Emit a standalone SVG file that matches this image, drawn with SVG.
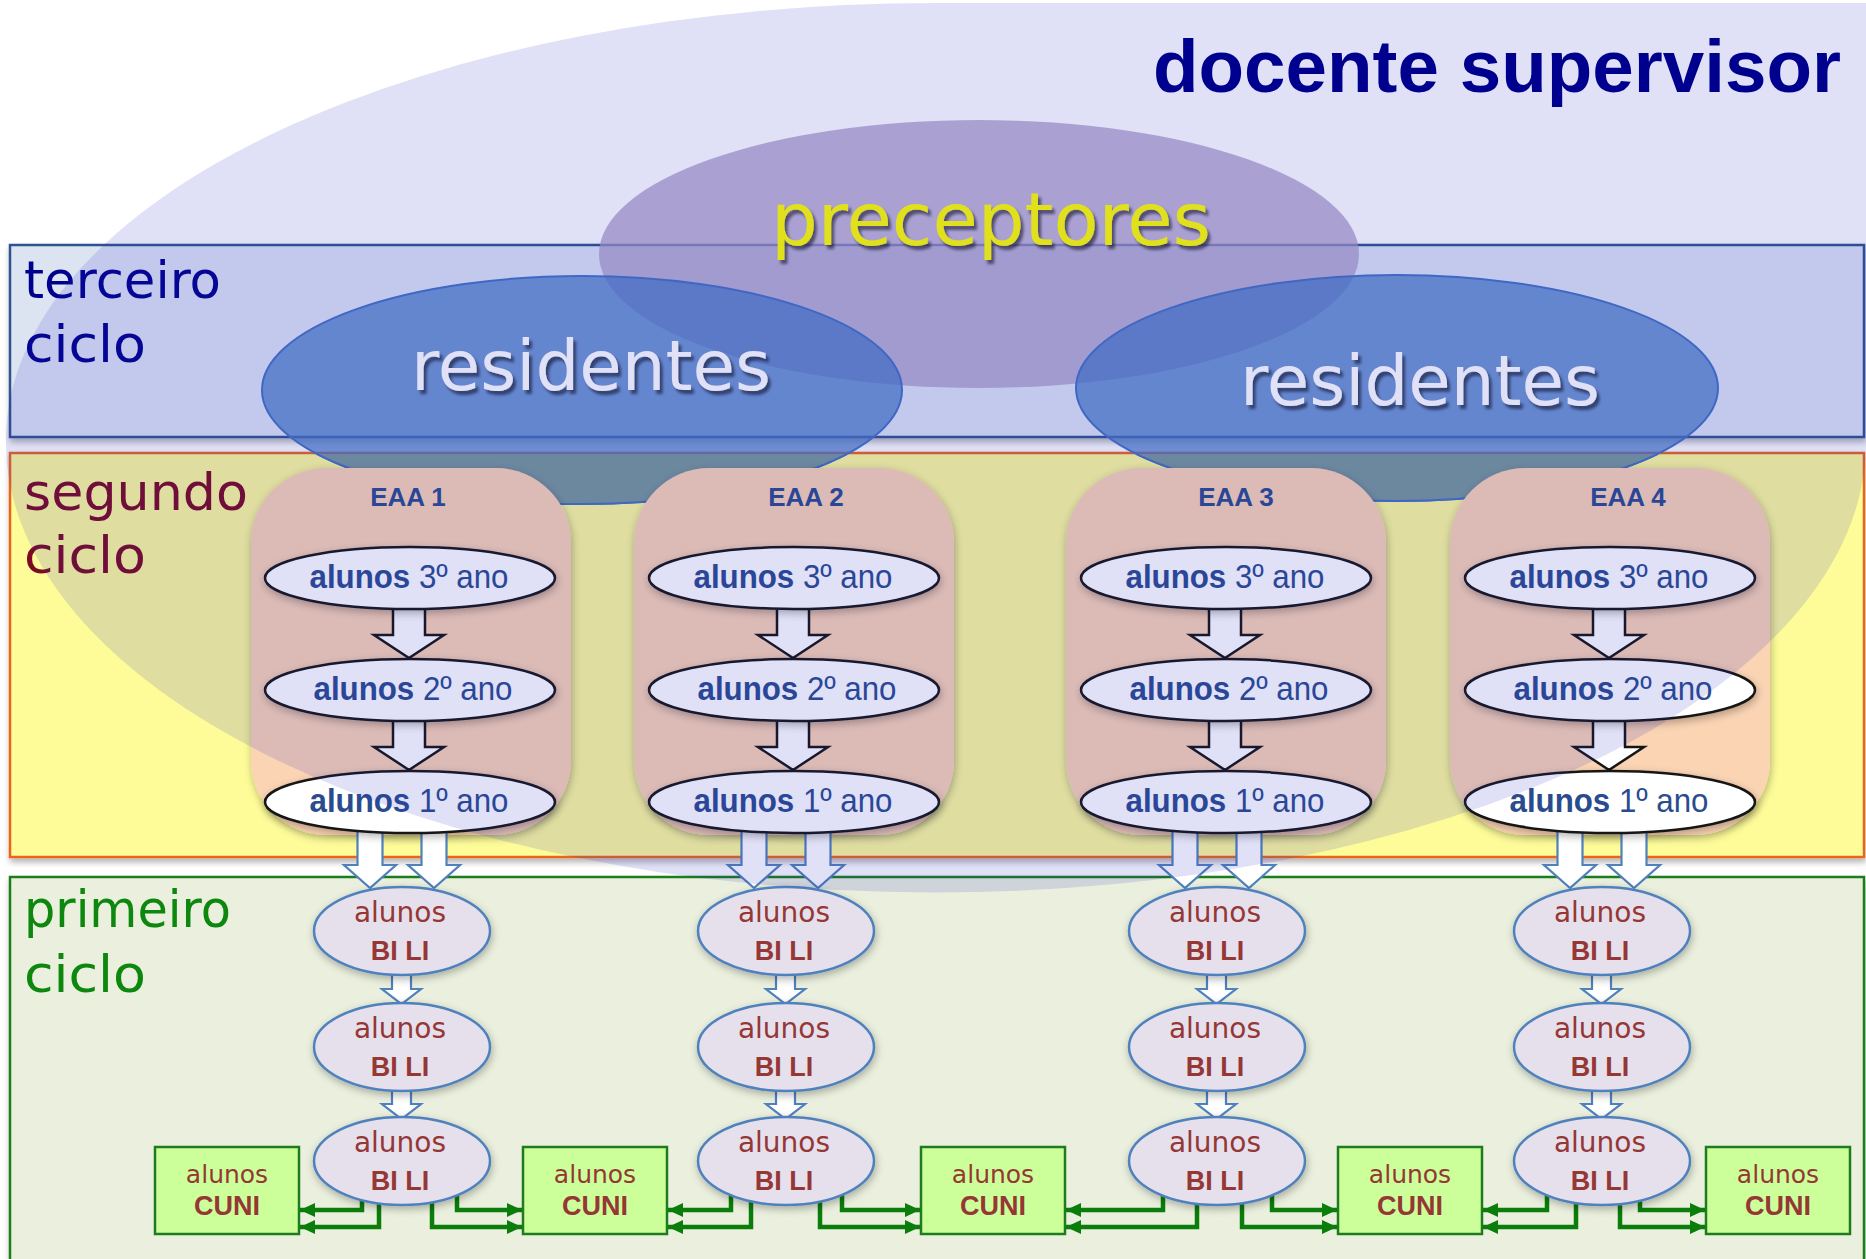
<svg xmlns="http://www.w3.org/2000/svg" xmlns:xlink="http://www.w3.org/1999/xlink" width="1866" height="1259" viewBox="0 0 1866 1259">
<defs>
<style>
.cg{font-family:"DejaVu Sans",Verdana,sans-serif}
.ls{font-family:"Liberation Sans",Arial,sans-serif}
.band{stroke-width:2.5}
.band-label{font-size:52px}
.eaa-box{fill:#FBD4B4}
.eaa-title{font-size:26px;font-weight:bold;fill:#2A4C8E;text-anchor:middle}
.al{fill:#ffffff;stroke:#151515;stroke-width:2.5}
.al-t{font-size:33px;fill:#2A4C8E;text-anchor:middle}
.bili{fill:#E5E0EC;stroke:#4F81BD;stroke-width:2.5}
.red-t{fill:#953735;text-anchor:middle}
.cuni{fill:#CCFF99;stroke:#1E7B1E;stroke-width:2.5}
.blk{fill:#ffffff;stroke:#151515;stroke-width:2.5}
.blu{fill:#ffffff;stroke:#4F81BD;stroke-width:2.2}
.green{fill:none;stroke:#0A7D0A;stroke-width:4.5;marker-end:url(#gh)}
</style>
<marker id="gh" markerUnits="userSpaceOnUse" markerWidth="16" markerHeight="16" refX="15" refY="8" orient="auto"><path d="M0,1 L15,8 L0,15 z" fill="#0A7D0A"/></marker>
<polygon id="blkA" points="-16,0 16,0 16,35 35,35 0,58 -35,35 -16,35"/>
<polygon id="bluA" points="-12.5,0 12.5,0 12.5,50 26,50 0,73 -26,50 -12.5,50"/>
<polygon id="smA" points="-9.5,0 9.5,0 9.5,24 19.5,24 0,39 -19.5,24 -9.5,24"/>
<filter id="bandSh" x="-5%" y="-10%" width="110%" height="130%">
<feGaussianBlur in="SourceAlpha" stdDeviation="3"/><feOffset dx="1" dy="4"/>
<feComponentTransfer><feFuncA type="linear" slope="0.3"/></feComponentTransfer>
<feMerge><feMergeNode/><feMergeNode in="SourceGraphic"/></feMerge></filter>
<filter id="softSh" x="-20%" y="-20%" width="140%" height="140%">
<feGaussianBlur in="SourceAlpha" stdDeviation="4"/><feOffset dx="1" dy="3"/>
<feComponentTransfer><feFuncA type="linear" slope="0.3"/></feComponentTransfer>
<feMerge><feMergeNode/><feMergeNode in="SourceGraphic"/></feMerge></filter>
<filter id="txtSh" x="-10%" y="-20%" width="120%" height="150%">
<feGaussianBlur in="SourceAlpha" stdDeviation="1.8"/><feOffset dx="3" dy="4"/>
<feComponentTransfer><feFuncA type="linear" slope="0.55"/></feComponentTransfer>
<feMerge><feMergeNode/><feMergeNode in="SourceGraphic"/></feMerge></filter>
<clipPath id="segClip"><rect x="0" y="455" width="1866" height="410"/></clipPath>
<clipPath id="topClip"><rect x="0" y="3" width="1866" height="1256"/></clipPath>
</defs>

<rect x="0" y="0" width="1866" height="1259" fill="#ffffff"/>

<g id="bands">
<g id="terceiro-ciclo">
<rect class="band" x="10" y="245" width="1854" height="192" fill="#DCE4F2" stroke="#2F528F" filter="url(#bandSh)"/>
<text class="cg band-label" x="24" y="298" fill="#00008E" textLength="197" lengthAdjust="spacingAndGlyphs">terceiro</text>
<text class="cg band-label" x="24" y="362" fill="#00008E" textLength="122" lengthAdjust="spacingAndGlyphs">ciclo</text>
</g>
<g id="segundo-ciclo">
<rect class="band" x="10" y="453" width="1854" height="404" fill="#FEFC99" stroke="#E8661C" stroke-width="3" filter="url(#bandSh)"/>
<text class="cg band-label" x="24" y="510" fill="#7C0A22" textLength="224" lengthAdjust="spacingAndGlyphs">segundo</text>
<text class="cg band-label" x="24" y="573" fill="#7C0A22" textLength="122" lengthAdjust="spacingAndGlyphs">ciclo</text>
</g>
<g id="primeiro-ciclo">
<rect class="band" x="10" y="877" width="1854" height="420" fill="#EBF0DE" stroke="#1B7D1B" filter="url(#bandSh)"/>
<text class="cg band-label" x="24" y="927" fill="#0E870E" textLength="207" lengthAdjust="spacingAndGlyphs">primeiro</text>
<text class="cg band-label" x="24" y="992" fill="#0E870E" textLength="122" lengthAdjust="spacingAndGlyphs">ciclo</text>
</g>
</g>

<g id="preceptores">
<ellipse cx="979" cy="254" rx="380" ry="134" fill="#A89AC3" fill-opacity="0.72"/>
<text class="cg" x="771" y="245" font-size="73" fill="#FFFF00" textLength="440" lengthAdjust="spacingAndGlyphs" filter="url(#txtSh)">preceptores</text>
</g>

<g id="residentes-1">
<ellipse cx="582" cy="390" rx="320" ry="114" fill="#4577C4" fill-opacity="0.72" stroke="#4472C4" stroke-width="2"/>
<ellipse cx="582" cy="390" rx="320" ry="114" fill="#779899" stroke="#4472C4" stroke-width="2" clip-path="url(#segClip)"/>
<text class="cg" x="411" y="390" font-size="69" fill="#ffffff" textLength="360" lengthAdjust="spacingAndGlyphs" filter="url(#txtSh)">residentes</text>
</g>
<g id="residentes-2">
<ellipse cx="1397" cy="388" rx="321" ry="113" fill="#4577C4" fill-opacity="0.72" stroke="#4472C4" stroke-width="2"/>
<ellipse cx="1397" cy="388" rx="321" ry="113" fill="#779899" stroke="#4472C4" stroke-width="2" clip-path="url(#segClip)"/>
<text class="cg" x="1240" y="405" font-size="69" fill="#ffffff" textLength="360" lengthAdjust="spacingAndGlyphs" filter="url(#txtSh)">residentes</text>
</g>

<g id="eaa-1"><rect class="eaa-box" x="251" y="468" width="320" height="367" rx="75" filter="url(#softSh)"/><text class="ls eaa-title" x="408" y="506">EAA 1</text></g>
<g id="eaa-2"><rect class="eaa-box" x="634" y="468" width="320" height="367" rx="75" filter="url(#softSh)"/><text class="ls eaa-title" x="806" y="506">EAA 2</text></g>
<g id="eaa-3"><rect class="eaa-box" x="1066" y="468" width="320" height="367" rx="75" filter="url(#softSh)"/><text class="ls eaa-title" x="1236" y="506">EAA 3</text></g>
<g id="eaa-4"><rect class="eaa-box" x="1450" y="468" width="320" height="367" rx="75" filter="url(#softSh)"/><text class="ls eaa-title" x="1628" y="506">EAA 4</text></g>

<g id="connectors">
<use href="#blkA" class="blk" x="409" y="600"/><use href="#blkA" class="blk" x="409" y="712"/>
<use href="#blkA" class="blk" x="793" y="600"/><use href="#blkA" class="blk" x="793" y="712"/>
<use href="#blkA" class="blk" x="1225" y="600"/><use href="#blkA" class="blk" x="1225" y="712"/>
<use href="#blkA" class="blk" x="1609" y="600"/><use href="#blkA" class="blk" x="1609" y="712"/>

<use href="#bluA" class="blu" x="370" y="815"/><use href="#bluA" class="blu" x="434" y="815"/>
<use href="#bluA" class="blu" x="754" y="815"/><use href="#bluA" class="blu" x="818" y="815"/>
<use href="#bluA" class="blu" x="1185" y="815"/><use href="#bluA" class="blu" x="1249" y="815"/>
<use href="#bluA" class="blu" x="1570" y="815"/><use href="#bluA" class="blu" x="1634" y="815"/>

<use href="#smA" class="blu" x="401.5" y="965"/><use href="#smA" class="blu" x="401.5" y="1080"/>
<use href="#smA" class="blu" x="785.5" y="965"/><use href="#smA" class="blu" x="785.5" y="1080"/>
<use href="#smA" class="blu" x="1216.5" y="965"/><use href="#smA" class="blu" x="1216.5" y="1080"/>
<use href="#smA" class="blu" x="1601.5" y="965"/><use href="#smA" class="blu" x="1601.5" y="1080"/>

<path class="green" d="M362,1185 V1210 H300"/>
<path class="green" d="M379,1185 V1227 H300"/>
<path class="green" d="M432,1185 V1227 H522"/>
<path class="green" d="M457,1185 V1210 H522"/>
<path class="green" d="M731,1185 V1210 H668"/>
<path class="green" d="M751,1185 V1227 H668"/>
<path class="green" d="M820,1185 V1227 H920"/>
<path class="green" d="M842,1185 V1210 H920"/>
<path class="green" d="M1163,1185 V1210 H1066"/>
<path class="green" d="M1197,1185 V1227 H1066"/>
<path class="green" d="M1242,1185 V1227 H1337"/>
<path class="green" d="M1272,1185 V1210 H1337"/>
<path class="green" d="M1547,1185 V1210 H1483"/>
<path class="green" d="M1576,1185 V1227 H1483"/>
<path class="green" d="M1620,1185 V1227 H1705"/>
<path class="green" d="M1640,1185 V1210 H1705"/>
</g>

<g id="eaa-1-alunos-3"><ellipse class="al" cx="410" cy="578" rx="145" ry="31" filter="url(#softSh)"/><text class="ls al-t" x="409" y="588" textLength="199" lengthAdjust="spacingAndGlyphs"><tspan font-weight="bold">alunos</tspan> 3º ano</text></g>
<g id="eaa-1-alunos-2"><ellipse class="al" cx="410" cy="690" rx="145" ry="31" filter="url(#softSh)"/><text class="ls al-t" x="413" y="700" textLength="199" lengthAdjust="spacingAndGlyphs"><tspan font-weight="bold">alunos</tspan> 2º ano</text></g>
<g id="eaa-1-alunos-1"><ellipse class="al" cx="410" cy="802" rx="145" ry="31" filter="url(#softSh)"/><text class="ls al-t" x="409" y="812" textLength="199" lengthAdjust="spacingAndGlyphs"><tspan font-weight="bold">alunos</tspan> 1º ano</text></g>

<g id="eaa-2-alunos-3"><ellipse class="al" cx="794" cy="578" rx="145" ry="31" filter="url(#softSh)"/><text class="ls al-t" x="793" y="588" textLength="199" lengthAdjust="spacingAndGlyphs"><tspan font-weight="bold">alunos</tspan> 3º ano</text></g>
<g id="eaa-2-alunos-2"><ellipse class="al" cx="794" cy="690" rx="145" ry="31" filter="url(#softSh)"/><text class="ls al-t" x="797" y="700" textLength="199" lengthAdjust="spacingAndGlyphs"><tspan font-weight="bold">alunos</tspan> 2º ano</text></g>
<g id="eaa-2-alunos-1"><ellipse class="al" cx="794" cy="802" rx="145" ry="31" filter="url(#softSh)"/><text class="ls al-t" x="793" y="812" textLength="199" lengthAdjust="spacingAndGlyphs"><tspan font-weight="bold">alunos</tspan> 1º ano</text></g>

<g id="eaa-3-alunos-3"><ellipse class="al" cx="1226" cy="578" rx="145" ry="31" filter="url(#softSh)"/><text class="ls al-t" x="1225" y="588" textLength="199" lengthAdjust="spacingAndGlyphs"><tspan font-weight="bold">alunos</tspan> 3º ano</text></g>
<g id="eaa-3-alunos-2"><ellipse class="al" cx="1226" cy="690" rx="145" ry="31" filter="url(#softSh)"/><text class="ls al-t" x="1229" y="700" textLength="199" lengthAdjust="spacingAndGlyphs"><tspan font-weight="bold">alunos</tspan> 2º ano</text></g>
<g id="eaa-3-alunos-1"><ellipse class="al" cx="1226" cy="802" rx="145" ry="31" filter="url(#softSh)"/><text class="ls al-t" x="1225" y="812" textLength="199" lengthAdjust="spacingAndGlyphs"><tspan font-weight="bold">alunos</tspan> 1º ano</text></g>

<g id="eaa-4-alunos-3"><ellipse class="al" cx="1610" cy="578" rx="145" ry="31" filter="url(#softSh)"/><text class="ls al-t" x="1609" y="588" textLength="199" lengthAdjust="spacingAndGlyphs"><tspan font-weight="bold">alunos</tspan> 3º ano</text></g>
<g id="eaa-4-alunos-2"><ellipse class="al" cx="1610" cy="690" rx="145" ry="31" filter="url(#softSh)"/><text class="ls al-t" x="1613" y="700" textLength="199" lengthAdjust="spacingAndGlyphs"><tspan font-weight="bold">alunos</tspan> 2º ano</text></g>
<g id="eaa-4-alunos-1"><ellipse class="al" cx="1610" cy="802" rx="145" ry="31" filter="url(#softSh)"/><text class="ls al-t" x="1609" y="812" textLength="199" lengthAdjust="spacingAndGlyphs"><tspan font-weight="bold">alunos</tspan> 1º ano</text></g>

<g id="bili-1-a"><ellipse class="bili" cx="402" cy="931" rx="88" ry="44" filter="url(#softSh)"/><text class="cg red-t" x="400" y="922" font-size="28">alunos</text><text class="ls red-t" x="400" y="960" font-size="27" font-weight="bold">BI LI</text></g>
<g id="bili-1-b"><ellipse class="bili" cx="402" cy="1047" rx="88" ry="44" filter="url(#softSh)"/><text class="cg red-t" x="400" y="1038" font-size="28">alunos</text><text class="ls red-t" x="400" y="1076" font-size="27" font-weight="bold">BI LI</text></g>
<g id="bili-1-c"><ellipse class="bili" cx="402" cy="1161" rx="88" ry="44" filter="url(#softSh)"/><text class="cg red-t" x="400" y="1152" font-size="28">alunos</text><text class="ls red-t" x="400" y="1190" font-size="27" font-weight="bold">BI LI</text></g>

<g id="bili-2-a"><ellipse class="bili" cx="786" cy="931" rx="88" ry="44" filter="url(#softSh)"/><text class="cg red-t" x="784" y="922" font-size="28">alunos</text><text class="ls red-t" x="784" y="960" font-size="27" font-weight="bold">BI LI</text></g>
<g id="bili-2-b"><ellipse class="bili" cx="786" cy="1047" rx="88" ry="44" filter="url(#softSh)"/><text class="cg red-t" x="784" y="1038" font-size="28">alunos</text><text class="ls red-t" x="784" y="1076" font-size="27" font-weight="bold">BI LI</text></g>
<g id="bili-2-c"><ellipse class="bili" cx="786" cy="1161" rx="88" ry="44" filter="url(#softSh)"/><text class="cg red-t" x="784" y="1152" font-size="28">alunos</text><text class="ls red-t" x="784" y="1190" font-size="27" font-weight="bold">BI LI</text></g>

<g id="bili-3-a"><ellipse class="bili" cx="1217" cy="931" rx="88" ry="44" filter="url(#softSh)"/><text class="cg red-t" x="1215" y="922" font-size="28">alunos</text><text class="ls red-t" x="1215" y="960" font-size="27" font-weight="bold">BI LI</text></g>
<g id="bili-3-b"><ellipse class="bili" cx="1217" cy="1047" rx="88" ry="44" filter="url(#softSh)"/><text class="cg red-t" x="1215" y="1038" font-size="28">alunos</text><text class="ls red-t" x="1215" y="1076" font-size="27" font-weight="bold">BI LI</text></g>
<g id="bili-3-c"><ellipse class="bili" cx="1217" cy="1161" rx="88" ry="44" filter="url(#softSh)"/><text class="cg red-t" x="1215" y="1152" font-size="28">alunos</text><text class="ls red-t" x="1215" y="1190" font-size="27" font-weight="bold">BI LI</text></g>

<g id="bili-4-a"><ellipse class="bili" cx="1602" cy="931" rx="88" ry="44" filter="url(#softSh)"/><text class="cg red-t" x="1600" y="922" font-size="28">alunos</text><text class="ls red-t" x="1600" y="960" font-size="27" font-weight="bold">BI LI</text></g>
<g id="bili-4-b"><ellipse class="bili" cx="1602" cy="1047" rx="88" ry="44" filter="url(#softSh)"/><text class="cg red-t" x="1600" y="1038" font-size="28">alunos</text><text class="ls red-t" x="1600" y="1076" font-size="27" font-weight="bold">BI LI</text></g>
<g id="bili-4-c"><ellipse class="bili" cx="1602" cy="1161" rx="88" ry="44" filter="url(#softSh)"/><text class="cg red-t" x="1600" y="1152" font-size="28">alunos</text><text class="ls red-t" x="1600" y="1190" font-size="27" font-weight="bold">BI LI</text></g>

<g id="cuni-1"><rect class="cuni" x="155" y="1147" width="144" height="87"/><text class="cg red-t" x="227" y="1183" font-size="25">alunos</text><text class="ls red-t" x="227" y="1215" font-size="27" font-weight="bold">CUNI</text></g>
<g id="cuni-2"><rect class="cuni" x="523" y="1147" width="144" height="87"/><text class="cg red-t" x="595" y="1183" font-size="25">alunos</text><text class="ls red-t" x="595" y="1215" font-size="27" font-weight="bold">CUNI</text></g>
<g id="cuni-3"><rect class="cuni" x="921" y="1147" width="144" height="87"/><text class="cg red-t" x="993" y="1183" font-size="25">alunos</text><text class="ls red-t" x="993" y="1215" font-size="27" font-weight="bold">CUNI</text></g>
<g id="cuni-4"><rect class="cuni" x="1338" y="1147" width="144" height="87"/><text class="cg red-t" x="1410" y="1183" font-size="25">alunos</text><text class="ls red-t" x="1410" y="1215" font-size="27" font-weight="bold">CUNI</text></g>
<g id="cuni-5"><rect class="cuni" x="1706" y="1147" width="144" height="87"/><text class="cg red-t" x="1778" y="1183" font-size="25">alunos</text><text class="ls red-t" x="1778" y="1215" font-size="27" font-weight="bold">CUNI</text></g>

<g id="docente-supervisor">
<path d="M1866,3 L1866,445 A930,450 0 0 1 6,440 A930,437 0 0 1 936,3 Z" fill="#2C2CC8" fill-opacity="0.147" clip-path="url(#topClip)"/>
<text class="ls" x="1153" y="92" font-size="75" font-weight="bold" fill="#00008E" textLength="688" lengthAdjust="spacingAndGlyphs">docente supervisor</text>
</g>
</svg>
